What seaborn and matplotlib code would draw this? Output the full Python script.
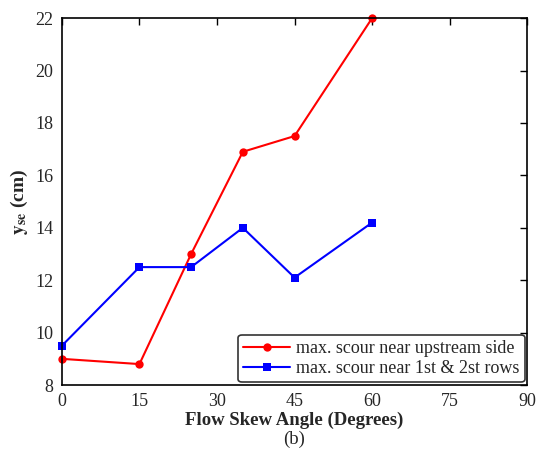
import numpy as np
import pandas as pd
import matplotlib
matplotlib.use('Agg')
import matplotlib.pyplot as plt
import seaborn as sns

# Data
angles = [0, 15, 25, 35, 45, 60]
upstream = [9.0, 8.8, 13.0, 16.9, 17.5, 22.0]
rows = [9.5, 12.5, 12.5, 14.0, 12.1, 14.2]
labels = ['max. scour near upstream side', 'max. scour near 1st & 2st rows']
x_ticks = [0, 15, 30, 45, 60, 75, 90]
y_ticks = [8, 10, 12, 14, 16, 18, 20, 22]

sns.set_style('white')
plt.rcParams['font.family'] = ['Liberation Serif', 'DejaVu Serif']
plt.rcParams['mathtext.fontset'] = 'stix'

fig = plt.figure(figsize=(5.38, 4.53), dpi=100)
ax = fig.add_axes([0.115, 0.15, 0.865, 0.81])

sns.lineplot(x=angles, y=upstream, ax=ax, color='#ff0000', marker='o',
             markersize=6, markeredgewidth=0, linewidth=1.5, label=labels[0],
             clip_on=False)
sns.lineplot(x=angles, y=rows, ax=ax, color='#0000ff', marker='s',
             markersize=6, markeredgewidth=0, linewidth=1.5, label=labels[1],
             clip_on=False)

ax.set_xlim(0, 90)
ax.set_ylim(8, 22)
ax.set_xticks(x_ticks)
ax.set_yticks(y_ticks)
ax.tick_params(direction='in', length=5, width=1, labelsize=13, color='black',
               top=True, right=True, pad=6)
for s in ax.spines.values():
    s.set_color('black')
    s.set_linewidth(1.2)

ax.set_xlabel('Flow Skew Angle (Degrees)', fontsize=13.5, fontweight='bold', labelpad=1)
ax.set_ylabel(r'$\mathbf{y}_{\mathbf{se}}$ (cm)', fontsize=14, fontweight='bold', labelpad=4)
fig.text(0.5 * (0.115 + 0.98), 0.012, '(b)', ha='center', va='bottom', fontsize=13.5)

leg = ax.legend(loc='lower right', fontsize=13, frameon=True, fancybox=True,
                edgecolor='black', handlelength=2.6, handletextpad=0.3,
                borderpad=0.3, labelspacing=0.15, borderaxespad=0.15)
leg.get_frame().set_linewidth(1.2)

plt.savefig('out.png', dpi=100)
plt.close()
